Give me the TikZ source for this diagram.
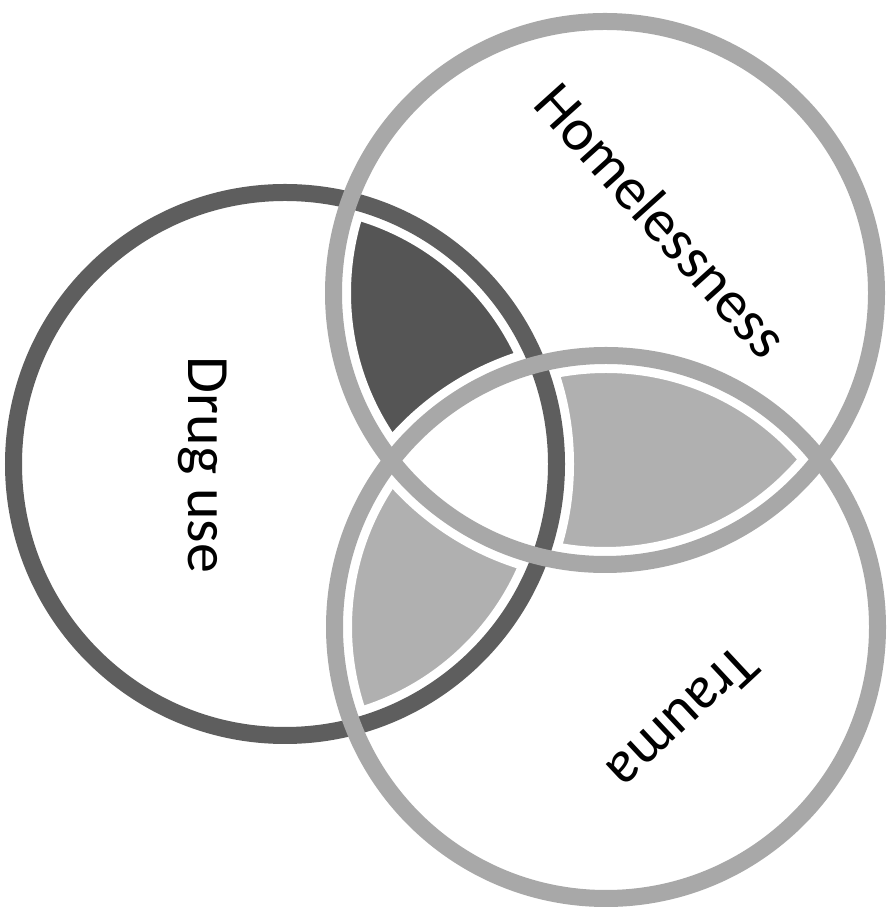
\documentclass[tikz,border=0pt]{standalone}
\usepackage{fontspec}
\setmainfont{Carlito}
\definecolor{ringdark}{HTML}{5E5E5E}
\definecolor{filldark}{HTML}{555555}
\definecolor{ringlight}{HTML}{A8A8A8}
\definecolor{filllight}{HTML}{B0B0B0}
\tikzset{
  ringD/.style={draw=ringdark, line width=17pt},
  ringL/.style={draw=ringlight, line width=17pt},
  gapring/.style={draw=white, line width=35pt},
  lbl/.style={font=\fontsize{60}{72}\selectfont, text=black, inner sep=0pt}
}
\begin{document}
\begin{tikzpicture}[x=1pt,y=1pt]
\useasboundingbox (0,0) rectangle (896,907);
\coordinate (D) at (285,443);
\coordinate (H) at (605,614);
\coordinate (T) at (606,280);
\def\R{271.5pt}
% overlap fills
\begin{scope}
  \clip (D) circle[radius=\R];
  \fill[filldark] (H) circle[radius=\R];
\end{scope}
\begin{scope}
  \clip (H) circle[radius=\R];
  \fill[filllight] (T) circle[radius=\R];
\end{scope}
\begin{scope}
  \clip (D) circle[radius=\R];
  \fill[filllight] (T) circle[radius=\R];
\end{scope}
\begin{scope}
  \clip (D) circle[radius=\R];
  \clip (H) circle[radius=\R];
  \fill[white] (T) circle[radius=\R];
\end{scope}
% white gaps
\path[gapring] (D) circle[radius=\R];
\path[gapring] (H) circle[radius=\R];
\path[gapring] (T) circle[radius=\R];
% rings
\path[ringD] (D) circle[radius=\R];
\path[ringL] (H) circle[radius=\R];
\path[ringL] (T) circle[radius=\R];
% labels
\node[lbl, rotate=-90, anchor=base] (drug) at (188,442) {Drug use};
\node[lbl, rotate=-48, anchor=center] (home) at (662,687) {Homelessness};
\node[lbl, rotate=223, anchor=center] (trauma) at (683,188) {Trauma};
\end{tikzpicture}
\end{document}
